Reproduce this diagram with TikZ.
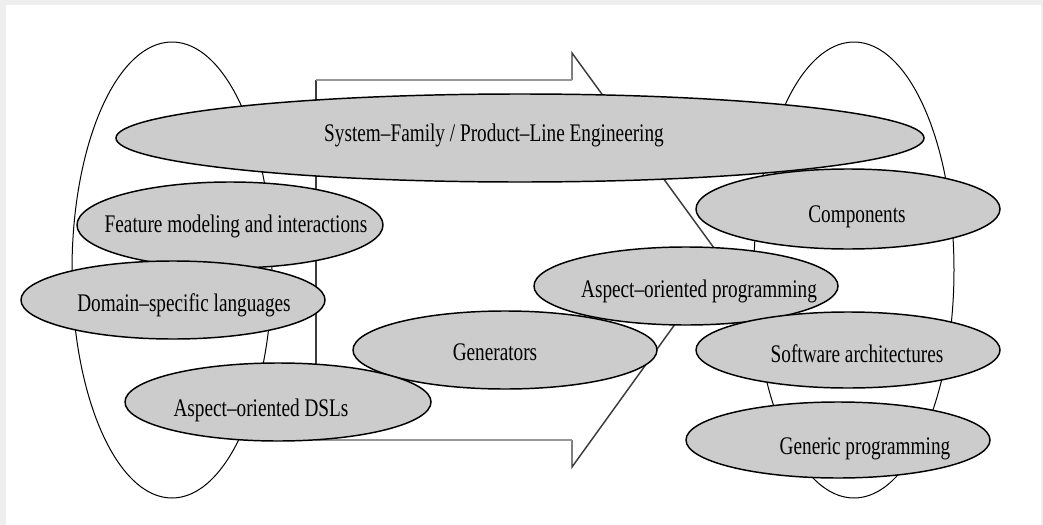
\documentclass[tikz,border=0pt]{standalone}
\usepackage{fontspec}
\newfontfamily\cellfont{Liberation Serif}[FakeStretch=0.76]
\definecolor{cellfill}{RGB}{204,204,204}
\definecolor{framegray}{RGB}{238,238,238}
\definecolor{shaftgray}{RGB}{150,150,150}
\definecolor{headgray}{RGB}{60,60,60}
\tikzset{every picture/.style={line width=0.75pt}}
\tikzset{
  cell/.style={draw=black, fill=cellfill, line width=1.1pt},
  celltext/.style={anchor=base, inner sep=0.75pt, font=\cellfont\fontsize{19}{21}\selectfont},
}
\begin{document}
\begin{tikzpicture}[x=0.75pt,y=0.75pt,yscale=-1,xscale=1]
\useasboundingbox (0,0) rectangle (1043,525);
%Frame
\fill[framegray] (0,0) rectangle (1043,525);
\fill[white] (6,5) rectangle (1041,525);

%Shape: Ellipse [left group]
\draw (172,270) ellipse (100 and 228);
%Shape: Ellipse [right group]
\draw (854,270) ellipse (100 and 228);

%Shape: Block Arrow
\draw[headgray, line width=1.1pt] (572,80) -- (572,53) -- (722,259) -- (572,467) -- (572,440);
\draw[headgray, line width=1.1pt] (316,80) -- (316,440);
\draw[shaftgray, line width=1.6pt] (316,80) -- (572,80) (316,440) -- (572,440);

%Shape: Ellipse [system family]
\draw[cell] (520,138) ellipse (404 and 44);
%Shape: Ellipse [feature modeling]
\draw[cell] (230,225) ellipse (153 and 43);
%Shape: Ellipse [domain languages]
\draw[cell] (173,300) ellipse (152 and 39);
%Shape: Ellipse [generators]
\draw[cell] (505,350) ellipse (152 and 39);
%Shape: Ellipse [aspect dsl]
\draw[cell] (278,402) ellipse (153 and 39);
%Shape: Ellipse [aspect programming]
\draw[cell] (686,286) ellipse (152 and 39);
%Shape: Ellipse [components]
\draw[cell] (848,209) ellipse (152 and 40);
%Shape: Ellipse [architectures]
\draw[cell] (848,350) ellipse (152 and 38);
%Shape: Ellipse [generic programming]
\draw[cell] (838,440) ellipse (152 and 38);

% Text Node
\node[celltext] (sysfam) at (494,141) {System–Family / Product–Line Engineering};
% Text Node
\node[celltext] (featmod) at (236,232) {Feature modeling and interactions};
% Text Node
\node[celltext] (domlang) at (184,311) {Domain–specific languages};
% Text Node
\node[celltext] (gener) at (495,360) {Generators};
% Text Node
\node[celltext] (aodsl) at (261,416) {Aspect–oriented DSLs};
% Text Node
\node[celltext] (aoprog) at (699,297) {Aspect–oriented programming};
% Text Node
\node[celltext] (compon) at (857,222) {Components};
% Text Node
\node[celltext] (softarch) at (857,362) {Software architectures};
% Text Node
\node[celltext] (genprog) at (865,454) {Generic programming};

\end{tikzpicture}
\end{document}
